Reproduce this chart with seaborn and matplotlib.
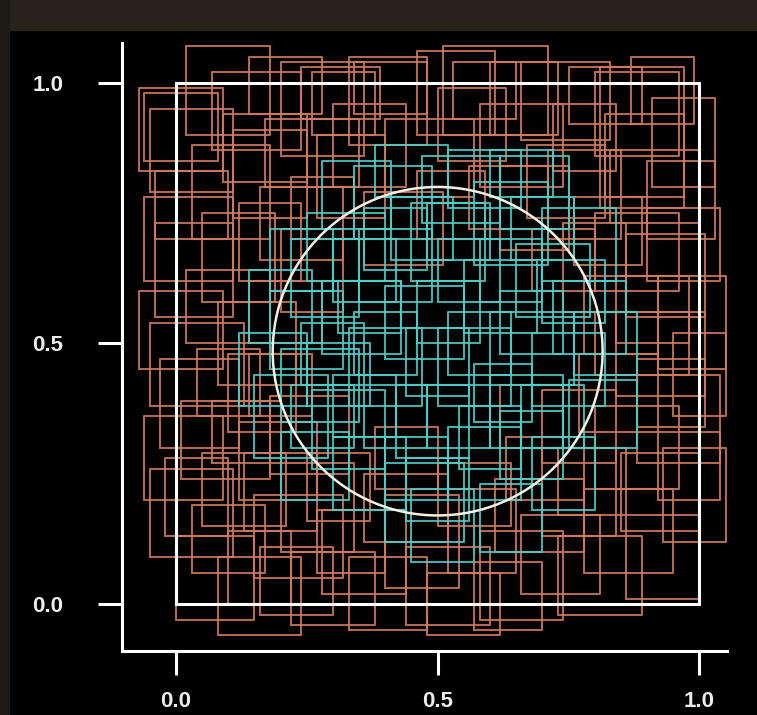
import numpy as np
import pandas as pd
import matplotlib
matplotlib.use("Agg")
import matplotlib.pyplot as plt
from matplotlib.patches import Rectangle, Circle
import seaborn as sns

# orange squares (outside the circle): left, bottom, width, height
orange_x = [0.02, -0.07, -0.05, 0.07, 0.20, 0.33, 0.11, 0.17, 0.40, 0.46, 0.50, 0.58,
            0.66, 0.80, 0.82, 0.83, 0.71, 0.27, 0.03, 0.36, 0.62, 0.91, 0.72, 0.24,
            -0.06, -0.04, -0.07, -0.05, -0.03, 0.02, 0.05, 0.08, 0.01, 0.10, 0.12, -0.06,
            -0.05, 0.05, 0.00, 0.08, 0.15, 0.12, 0.22, 0.20, 0.28, 0.33, 0.25, -0.02,
            0.40, 0.44, 0.52, 0.58, 0.61, 0.66, 0.70, 0.73, 0.78, 0.85, 0.86, 0.63, 0.50,
            0.80, 0.88, 0.77, 0.84, 0.92, 0.78, 0.86, 0.80, 0.90, 0.74, 0.70, 0.93, 0.80,
            0.16, 0.20, 0.14, 0.18, 0.13, 0.67, 0.56, 0.46, 0.30, 0.09, 0.73, 0.36, 0.10,
            0.95, 0.60, 0.87, -0.04, 0.04, 0.03, 0.26, 0.53, 0.75, 0.90, 0.92, 0.57, 0.27,
            0.07, 0.68, 0.22, 0.38, 0.62, 0.51, 0.81,
            -0.06, 0.14, 0.84, 0.88, 0.14, 0.16, 0.48, 0.76, 0.34]
orange_y = [0.90, 0.83, 0.79, 0.87, 0.86, 0.88, 0.74, 0.80, 0.78, 0.90, 0.85, 0.80,
            0.89, 0.86, 0.78, 0.73, 0.70, 0.74, 0.70, 0.65, 0.68, 0.80, 0.83, 0.93,
            0.62, 0.55, 0.45, 0.38, 0.30, 0.50, 0.58, 0.42, 0.24, 0.33, 0.62, 0.20,
            0.09, 0.15, -0.03, -0.06, 0.05, 0.20, -0.04, 0.10, 0.02, -0.05, 0.16, 0.13,
            0.03, -0.04, 0.06, -0.03, 0.10, 0.02, 0.13, -0.02, 0.06, 0.14, 0.01, 0.20, 0.15,
            0.22, 0.27, 0.33, 0.40, 0.45, 0.48, 0.55, 0.60, 0.62, 0.56, 0.27, 0.12, 0.44,
            0.66, 0.56, 0.50, 0.25, 0.14, 0.74, 0.72, 0.70, 0.80, 0.81, 0.17, 0.12, 0.00,
            0.36, 0.90, 0.92, 0.70, 0.36, 0.06, 0.90, 0.93, 0.92, 0.70, 0.20, -0.05, 0.06,
            0.27, 0.60, 0.70, 0.22, 0.30, 0.90, 0.76,
            0.85, 0.94, 0.50, 0.34, 0.36, -0.02, -0.06, 0.65, 0.94]
orange_w = [0.16, 0.16, 0.16, 0.17, 0.16, 0.15, 0.14, 0.18, 0.17, 0.15, 0.13, 0.16,
            0.17, 0.16, 0.15, 0.17, 0.14, 0.13, 0.15, 0.15, 0.13, 0.12, 0.12, 0.15,
            0.17, 0.15, 0.16, 0.18, 0.15, 0.16, 0.14, 0.15, 0.17, 0.13, 0.12, 0.15,
            0.16, 0.16, 0.15, 0.16, 0.17, 0.15, 0.16, 0.14, 0.16, 0.15, 0.12, 0.12,
            0.14, 0.16, 0.13, 0.16, 0.17, 0.15, 0.14, 0.16, 0.17, 0.15, 0.14, 0.15, 0.14,
            0.16, 0.16, 0.15, 0.17, 0.13, 0.14, 0.15, 0.16, 0.14, 0.12, 0.14, 0.12, 0.18,
            0.16, 0.12, 0.14, 0.15, 0.14, 0.15, 0.15, 0.13, 0.14, 0.16, 0.13, 0.16, 0.12,
            0.10, 0.13, 0.12, 0.14, 0.12, 0.14, 0.12, 0.12, 0.14, 0.13, 0.12, 0.13, 0.13,
            0.13, 0.12, 0.12, 0.12, 0.12, 0.20, 0.16,
            0.14, 0.14, 0.14, 0.13, 0.12, 0.14, 0.14, 0.13, 0.14]
orange_h = [0.17, 0.16, 0.16, 0.15, 0.18, 0.17, 0.17, 0.13, 0.15, 0.16, 0.14, 0.16,
            0.15, 0.16, 0.16, 0.14, 0.17, 0.16, 0.18, 0.14, 0.16, 0.17, 0.13, 0.10,
            0.16, 0.18, 0.15, 0.16, 0.17, 0.14, 0.17, 0.16, 0.15, 0.15, 0.15, 0.16,
            0.17, 0.14, 0.16, 0.15, 0.16, 0.15, 0.14, 0.17, 0.16, 0.14, 0.13, 0.15,
            0.18, 0.15, 0.16, 0.17, 0.14, 0.15, 0.17, 0.15, 0.16, 0.15, 0.16, 0.12, 0.12,
            0.16, 0.17, 0.15, 0.16, 0.18, 0.15, 0.16, 0.15, 0.14, 0.17, 0.14, 0.18, 0.12,
            0.14, 0.16, 0.12, 0.15, 0.15, 0.14, 0.12, 0.13, 0.16, 0.13, 0.13, 0.13, 0.14,
            0.16, 0.14, 0.13, 0.13, 0.13, 0.13, 0.12, 0.11, 0.11, 0.15, 0.13, 0.13, 0.12,
            0.12, 0.12, 0.12, 0.12, 0.12, 0.17, 0.27,
            0.13, 0.11, 0.13, 0.13, 0.12, 0.13, 0.12, 0.13, 0.10]

# cyan squares (inside the circle)
cyan_x = [0.18, 0.20, 0.15, 0.22, 0.25, 0.28, 0.26, 0.30, 0.33, 0.35, 0.34, 0.40,
          0.42, 0.40, 0.45, 0.47, 0.50, 0.52, 0.55, 0.57, 0.60, 0.60, 0.62, 0.65,
          0.68, 0.68, 0.70, 0.72, 0.52, 0.38, 0.12, 0.14, 0.25, 0.36, 0.46, 0.58,
          0.30, 0.48, 0.62, 0.75, 0.20, 0.45, 0.58, 0.28, 0.64, 0.41, 0.34, 0.52,
          0.22, 0.70, 0.57, 0.40, 0.31, 0.50,
          0.24, 0.44, 0.62, 0.36, 0.54, 0.30, 0.66, 0.48, 0.18, 0.76, 0.44, 0.60]
cyan_y = [0.45, 0.35, 0.28, 0.55, 0.62, 0.48, 0.26, 0.18, 0.38, 0.58, 0.70, 0.47,
          0.28, 0.12, 0.62, 0.73, 0.38, 0.20, 0.52, 0.65, 0.30, 0.42, 0.72, 0.55,
          0.18, 0.38, 0.62, 0.48, 0.76, 0.78, 0.38, 0.50, 0.38, 0.30, 0.50, 0.58,
          0.58, 0.30, 0.24, 0.30, 0.20, 0.08, 0.10, 0.72, 0.66, 0.66, 0.44, 0.44,
          0.30, 0.54, 0.35, 0.20, 0.52, 0.58,
          0.42, 0.40, 0.48, 0.64, 0.26, 0.32, 0.30, 0.66, 0.60, 0.44, 0.16, 0.78]
cyan_w = [0.14, 0.15, 0.14, 0.13, 0.15, 0.15, 0.14, 0.14, 0.14, 0.14, 0.15, 0.15,
          0.14, 0.15, 0.14, 0.15, 0.14, 0.14, 0.14, 0.14, 0.14, 0.16, 0.13, 0.14,
          0.12, 0.14, 0.14, 0.14, 0.14, 0.14, 0.13, 0.12, 0.12, 0.12, 0.12, 0.12,
          0.12, 0.12, 0.12, 0.13, 0.13, 0.12, 0.12, 0.13, 0.12, 0.12, 0.12, 0.12,
          0.12, 0.12, 0.11, 0.12, 0.12, 0.12,
          0.12, 0.12, 0.12, 0.12, 0.12, 0.12, 0.12, 0.12, 0.12, 0.12, 0.12, 0.12]
cyan_h = [0.15, 0.14, 0.16, 0.15, 0.13, 0.14, 0.15, 0.14, 0.15, 0.14, 0.14, 0.14,
          0.14, 0.15, 0.15, 0.13, 0.15, 0.14, 0.14, 0.16, 0.14, 0.14, 0.14, 0.14,
          0.14, 0.14, 0.14, 0.14, 0.11, 0.10, 0.14, 0.14, 0.12, 0.12, 0.12, 0.12,
          0.12, 0.12, 0.13, 0.13, 0.13, 0.14, 0.13, 0.13, 0.12, 0.12, 0.12, 0.12,
          0.12, 0.12, 0.11, 0.12, 0.10, 0.12,
          0.12, 0.13, 0.12, 0.12, 0.12, 0.12, 0.12, 0.11, 0.12, 0.12, 0.12, 0.09]

circle_center = (0.5, 0.485)
circle_radius = 0.315
tick_vals = [0.0, 0.5, 1.0]
tick_labels = ["0.0", "0.5", "1.0"]


def outlines(xs, ys, ws, hs, group):
    rows = []
    for i, (x0, y0, w, h) in enumerate(zip(xs, ys, ws, hs)):
        for px, py in [(x0, y0), (x0 + w, y0), (x0 + w, y0 + h), (x0, y0 + h), (x0, y0)]:
            rows.append({"x": px, "y": py, "rid": f"{group}{i}", "group": group})
    return rows


df = pd.DataFrame(outlines(orange_x, orange_y, orange_w, orange_h, "out")
                  + outlines(cyan_x, cyan_y, cyan_w, cyan_h, "in"))

sns.set_theme(style="white")
plt.rcParams["font.family"] = ["Liberation Sans", "DejaVu Sans"]

fig = plt.figure(figsize=(7.57, 7.15), dpi=100, facecolor="black")
# dark frame of the photographed slide
fig.add_artist(Rectangle((0, 0.958), 1, 0.042, transform=fig.transFigure,
                         color="#27221a", zorder=0))
fig.add_artist(Rectangle((0, 0), 0.012, 1, transform=fig.transFigure,
                         color="#1e1b15", zorder=0))

ax = fig.add_axes([0.161, 0.0895, 0.799, 0.851])
ax.set_facecolor("black")

sns.lineplot(data=df, x="x", y="y", units="rid", estimator=None, sort=False,
             hue="group", palette={"out": "#d07c62", "in": "#55cdc8"},
             linewidth=1.5, alpha=0.85, legend=False, ax=ax)

ax.add_patch(Rectangle((0, 0), 1, 1, fill=False, edgecolor="white", lw=2.2, zorder=5))
ax.add_patch(Circle(circle_center, circle_radius, fill=False, edgecolor="#f4f1e2",
                    lw=1.8, zorder=6))

ax.set_xlim(-0.103, 1.052)
ax.set_ylim(-0.090, 1.077)
ax.set_xlabel("")
ax.set_ylabel("")
ax.set_xticks(tick_vals)
ax.set_xticklabels(tick_labels)
ax.set_yticks(tick_vals)
ax.set_yticklabels(tick_labels)

for side in ["top", "right"]:
    ax.spines[side].set_visible(False)
for side in ["left", "bottom"]:
    ax.spines[side].set_color("white")
    ax.spines[side].set_linewidth(2.2)

ax.tick_params(axis="both", direction="out", length=17, width=2.2, color="white",
               labelcolor="#ececec", labelsize=16, bottom=True, left=True)
ax.tick_params(axis="y", pad=25)
ax.tick_params(axis="x", pad=12)
for lab in ax.get_xticklabels() + ax.get_yticklabels():
    lab.set_fontweight("bold")

fig.savefig("out.png", dpi=100, facecolor=fig.get_facecolor())
